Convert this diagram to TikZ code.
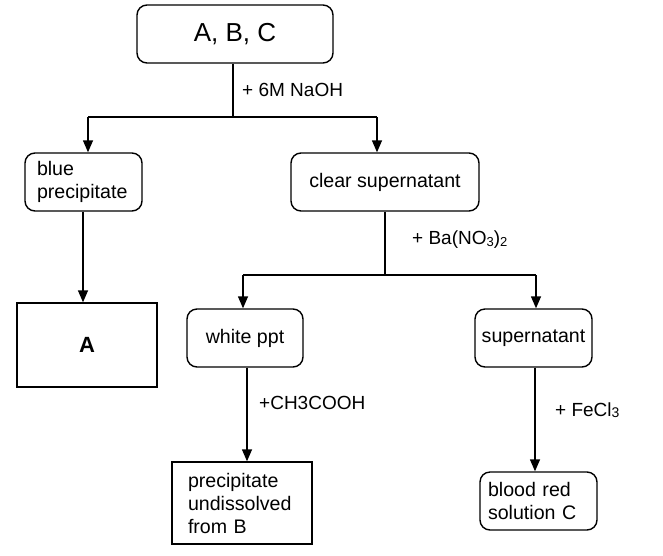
\documentclass[tikz,border=0pt]{standalone}
\usepackage{fontspec}
\setmainfont{Liberation Sans}
\usetikzlibrary{arrows.meta}
\newcommand{\smallsub}[1]{\raisebox{-2pt}{\fontsize{13}{13}\selectfont #1}}
\newcommand{\lowsub}[1]{\raisebox{-0.5pt}{\fontsize{14}{14}\selectfont #1}}
\begin{document}
\begin{tikzpicture}[x=1pt,y=-1pt,
  every node/.style={font=\fontsize{19.6}{23}\selectfont},
  rbox/.style={draw, line width=1.4pt, rounded corners=10pt, minimum height=58pt, inner sep=0pt},
  sbox/.style={draw, line width=1.4pt, inner sep=0pt},
  conn/.style={line width=1.4pt},
  arr/.style={line width=1.4pt, -{Triangle[length=12pt,width=10pt]}},
  lbl/.style={anchor=west, inner sep=0pt, font=\fontsize{19}{23}\selectfont}]
\useasboundingbox (0,0) rectangle (663,555);
\fill[white] (0,0) rectangle (663,555);

\node[rbox, minimum width=196pt, font=\fontsize{26}{30}\selectfont] (top) at (235,34) {A, B, C};
\node[rbox, minimum width=117pt, text width=93pt, align=left] (blue) at (83.5,182) {blue\\precipitate};
\node[sbox, minimum width=140pt, minimum height=84pt, font=\fontsize{22}{26}\selectfont\bfseries] (A) at (87,345) {A};
\node[rbox, minimum width=188pt] (clear) at (385,182) {clear supernatant};
\node[rbox, minimum width=116pt] (white) at (245,338) {white ppt};
\node[rbox, minimum width=117pt] (super) at (533.5,338) {supernatant};
\node[sbox, minimum width=140pt, minimum height=82pt, text width=108pt, align=left] (precip) at (242,503) {precipitate\\undissolved\\from B};
\node[rbox, minimum width=117pt, text width=101pt, align=left] (blood) at (538.5,501) {blood red\\solution C};

\coordinate (hl) at (88,117);
\coordinate (hr) at (377,117);
\coordinate (ml) at (243,275);
\coordinate (mr) at (536,275);

\draw[conn] (top.south -| 233,0) -- (233,117);
\draw[conn] (hl) -- (hr);
\draw[arr] (hl) -- (hl |- blue.north);
\draw[arr] (hr) -- (hr |- clear.north);
\draw[arr] (blue.south -| 83,0) -- (83,0 |- A.north);

\draw[conn] (clear.south) -- (clear.south |- ml);
\draw[conn] (ml) -- (mr);
\draw[arr] (ml) -- (ml |- white.north);
\draw[arr] (mr) -- (mr |- super.north);

\draw[arr] (white.south -| 247,0) -- (247,0 |- precip.north);
\draw[arr] (super.south -| 535,0) -- (535,0 |- blood.north);

\node[lbl] (l1) at (242,90) {+ 6M NaOH};
\node[lbl] (l2) at (412,240) {+ Ba(NO\smallsub{3})\smallsub{2}};
\node[lbl] (l3) at (259,403) {+CH3COOH};
\node[lbl] (l4) at (555,410) {+ FeCl\lowsub{3}};
\end{tikzpicture}
\end{document}
